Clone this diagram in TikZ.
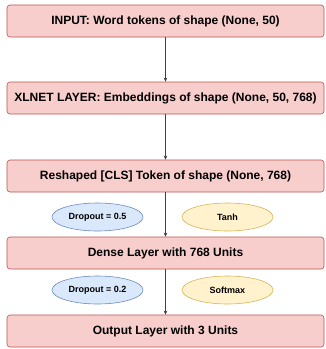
\documentclass[tikz,border=0pt]{standalone}
\usepackage{fontspec}
\setmainfont{Liberation Sans}
\usetikzlibrary{arrows.meta,shapes.geometric}
\definecolor{boxfill}{HTML}{F8CECC}
\definecolor{boxline}{HTML}{B85450}
\definecolor{bluefill}{HTML}{DAE8FC}
\definecolor{blueline}{HTML}{6C8EBF}
\definecolor{yelfill}{HTML}{FFF2CC}
\definecolor{yelline}{HTML}{D6B656}
\begin{document}
\begin{tikzpicture}[x=1pt,y=-1pt,
  layer/.style={draw=boxline, fill=boxfill, rounded corners=3pt, line width=0.6pt,
    minimum width=317pt, minimum height=32pt, inner sep=0pt,
    font=\fontsize{12}{14}\selectfont\bfseries},
  bluenode/.style={ellipse, draw=blueline, fill=bluefill, line width=0.6pt,
    minimum width=91pt, minimum height=28pt, inner sep=0pt,
    font=\fontsize{9}{11}\selectfont\bfseries},
  yelnode/.style={ellipse, draw=yelline, fill=yelfill, line width=0.6pt,
    minimum width=91pt, minimum height=28pt, inner sep=0pt,
    font=\fontsize{9}{11}\selectfont\bfseries},
  link/.style={draw=black!75, line width=0.6pt, -{Stealth[length=4pt,width=3.5pt]}}]
\useasboundingbox (0,0) rectangle (326,349);
\node[layer] (inp) at (165.5,21) {INPUT: Word tokens of shape (None, 50)};
\node[layer] (xl) at (165.5,98) {XLNET LAYER: Embeddings of shape (None, 50, 768)};
\node[layer] (cls) at (165.5,176) {Reshaped [CLS] Token of shape (None, 768)};
\node[layer] (dense) at (165.5,253) {Dense Layer with 768 Units};
\node[layer] (out) at (165.5,331) {Output Layer with 3 Units};
\node[bluenode] (d1) at (97.5,217) {Dropout = 0.5};
\node[yelnode] (t1) at (227.5,217) {Tanh};
\node[bluenode] (d2) at (97.5,290) {Dropout = 0.2};
\node[yelnode] (s1) at (227.5,290) {Softmax};
\draw[link] (inp) -- (xl);
\draw[link] (xl) -- (cls);
\draw[link] (cls) -- (dense);
\draw[link] (dense) -- (out);
\end{tikzpicture}
\end{document}
